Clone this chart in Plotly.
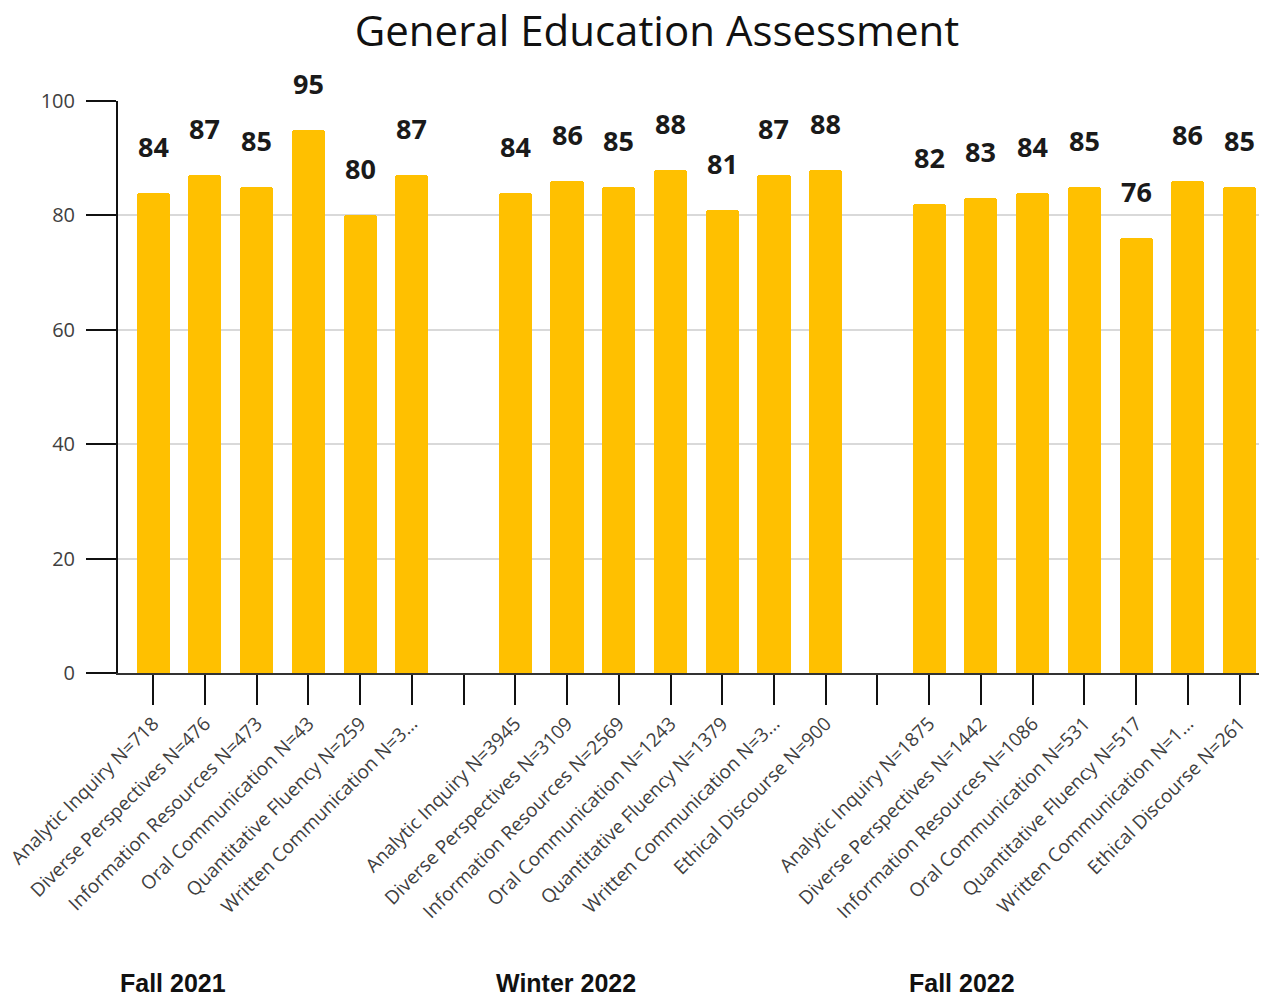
import plotly.graph_objects as go

groups = ["Fall 2021", "Winter 2022", "Fall 2022"]
fall2021_labels = ["Analytic Inquiry N=718", "Diverse Perspectives N=476", "Information Resources N=473",
                   "Oral Communication N=43", "Quantitative Fluency N=259", "Written Communication N=3..."]
fall2021_values = [84, 87, 85, 95, 80, 87]
winter2022_labels = ["Analytic Inquiry N=3945", "Diverse Perspectives N=3109", "Information Resources N=2569",
                     "Oral Communication N=1243", "Quantitative Fluency N=1379", "Written Communication N=3...",
                     "Ethical Discourse N=900"]
winter2022_values = [84, 86, 85, 88, 81, 87, 88]
fall2022_labels = ["Analytic Inquiry N=1875", "Diverse Perspectives N=1442", "Information Resources N=1086",
                   "Oral Communication N=531", "Quantitative Fluency N=517", "Written Communication N=1...",
                   "Ethical Discourse N=261"]
fall2022_values = [82, 83, 84, 85, 76, 86, 85]

all_labels = [fall2021_labels, winter2022_labels, fall2022_labels]
all_values = [fall2021_values, winter2022_values, fall2022_values]

xs, ys, tickvals, ticktext = [], [], [], []
pos = 0
for gi, (labs, vals) in enumerate(zip(all_labels, all_values)):
    if gi > 0:
        tickvals.append(pos)
        ticktext.append("")
        pos += 1
    for lab, v in zip(labs, vals):
        xs.append(pos)
        ys.append(v)
        tickvals.append(pos)
        ticktext.append(lab)
        pos += 1

# figure is placed inside the page with an 8px body margin
FW, FH = 1259, 989
L, T, B = 110, 93, 665
W = FW - L
H = B - T

fig = go.Figure()
fig.add_trace(go.Bar(
    x=xs, y=ys, width=0.64,
    marker=dict(color="#FFC000", line=dict(width=0), cornerradius=3),
    hoverinfo="skip",
))
for x, y in zip(xs, ys):
    fig.add_annotation(x=x, y=y, text=str(y), showarrow=False, yanchor="bottom", yshift=26,
                       font=dict(family="Open Sans", size=27, color="#1a1a1a", weight="bold"))

for name, px in zip(groups, [110, 486, 899]):
    fig.add_annotation(x=(px - L) / W, y=(B - 975) / H, xref="paper", yref="paper", text=f"<b>{name}</b>",
                       showarrow=False, xanchor="left", yanchor="middle",
                       font=dict(family="Liberation Sans", size=25, color="#111"))

fig.update_layout(
    width=FW, height=FH,
    margin=dict(l=L, r=0, t=T, b=FH - B),
    plot_bgcolor="white", paper_bgcolor="white",
    title=dict(text="General Education Assessment", x=649 / FW, xref="container", xanchor="center",
               y=1 - 23 / FH, yref="container", yanchor="middle",
               font=dict(family="Open Sans", size=42, color="#111")),
    showlegend=False,
    bargap=0,
)
fig.update_xaxes(
    range=[-0.68, 21.53], tickvals=tickvals, ticktext=ticktext, tickangle=-45,
    ticks="outside", ticklen=30, tickwidth=2, tickcolor="#111",
    showline=True, linecolor="#333", linewidth=2, showgrid=False, zeroline=False,
    tickfont=dict(family="Open Sans", size=19, color="#404040"),
    ticklabeloverflow="allow", automargin=False,
)
fig.update_yaxes(
    range=[0, 100], tickvals=[0, 20, 40, 60, 80, 100],
    ticks="outside", ticklen=30, tickwidth=2, tickcolor="#111",
    showline=True, linecolor="#111", linewidth=2,
    showgrid=True, gridcolor="#d9d9d9", gridwidth=2, zeroline=False,
    tickfont=dict(family="Open Sans", size=20, color="#404040"),
    ticklabelstandoff=7, automargin=False,
)
fig.write_html("out.html")
